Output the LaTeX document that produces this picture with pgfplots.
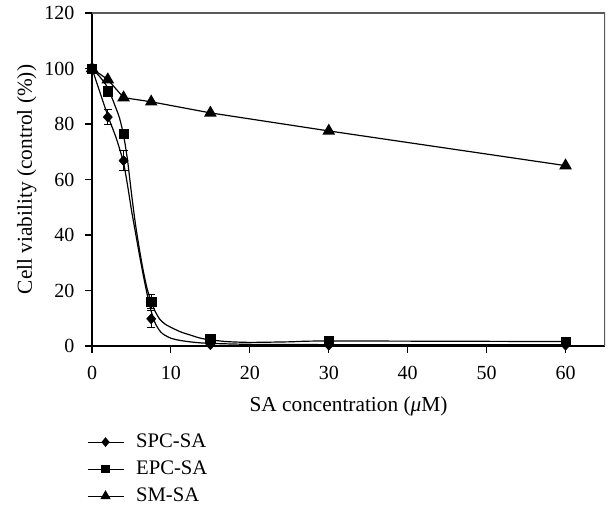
\documentclass[border=0pt]{standalone}
\usepackage{pgfplots}
\pgfplotsset{compat=1.18}
\usepackage{fontspec}
\setmainfont{Liberation Serif}

% fitted curves
\pgfplotstableread{
x y
0 100
1 91.5
2 83
3 75.5
3.5 71
4 66
4.5 58
5 49
5.5 41
6 33
6.5 25.5
7 18.5
7.5 12.5
8 8.3
8.5 5.8
9 4.3
10 2.8
11 2.1
12.4 1.5
14.5 1.0
20 0.6
30 0.5
60 0.5
}\spcfit
\pgfplotstableread{
x y
0 100
1 97
2 93
3 86
3.5 82
4 76
4.5 67
5 55
5.5 44
6 35
6.5 27
7 20.5
7.5 16
8 12.5
8.6 9.6
9.3 7.8
10.3 6.3
11.3 5
12.4 4
13.5 3
14.5 2.4
17 1.6
20 1.3
25 1.5
30 1.8
60 1.6
}\epcfit

\begin{document}
\begin{tikzpicture}
\begin{axis}[
    scale only axis,
    width=384.75pt, height=249.75pt,
    xmin=0, xmax=65, ymin=0, ymax=120,
    xtick={0,10,...,60}, ytick={0,20,...,120},
    axis x line*=bottom, axis y line*=left,
    axis line style={-, line width=1.2pt, black},
    tick align=outside, major tick length=5pt,
    tick style={black, line width=0.8pt},
    every tick label/.append style={font=\fontsize{15}{18}\selectfont},
    yticklabel style={inner sep=0pt, xshift=-8pt},
    xticklabel style={inner sep=0pt, yshift=-10pt},
    /pgf/number format/assume math mode=true,
    label style={font=\fontsize{16}{19}\selectfont},
    xlabel={SA concentration (\textit{μ}M)},
    ylabel={Cell viability (control (\%))},
    xlabel style={at={(axis description cs:0.5,-0.18)}, anchor=center},
    ylabel style={at={(axis description cs:-0.127,0.5)}, anchor=center},
    legend style={draw=none, fill=none, inner sep=0pt,
        at={(axis description cs:0,0)}, anchor=north west,
        xshift=-4pt, yshift=-64pt, font=\fontsize{15.5}{18}\selectfont,
        row sep=4.5pt, cells={anchor=west},
        /tikz/every odd column/.append style={column sep=7pt}},
    legend cell align=left,
    legend image code/.code={
        \draw[#1, mark repeat=2, mark phase=2] plot coordinates {(0pt,0pt) (13.5pt,0pt) (27pt,0pt)};},
]
\coordinate (bl) at (rel axis cs:0,0);
\coordinate (tr) at (rel axis cs:1,1);
\draw[black!65, line width=1pt] (rel axis cs:0,1) -- (rel axis cs:1,1) -- (rel axis cs:1,0);

\addplot[forget plot, black, line width=0.9pt, smooth, tension=0.4] table {\spcfit};
\addplot[forget plot, black, line width=0.9pt, smooth, tension=0.4] table {\epcfit};
\addplot[forget plot, black, line width=0.9pt, mark=triangle*, mark size=4.6pt] coordinates {
    (0,100) (2,96) (4,89.5) (7.5,88) (15,84) (30,77.5) (60,65)};

\addplot[forget plot, only marks, black, mark=diamond*, mark size=3.8pt,
    mark options={xscale=1.2},
    error bars/.cd, y dir=both, y explicit,
    error bar style={line width=0.8pt}, error mark options={rotate=90, mark size=3.2pt, line width=0.8pt}]
    table[x=x, y=y, y error=e] {
x y e
0 100 0
2 82.5 2.8
4 66.8 3.5
7.5 9.8 3
15 0.5 0.3
30 0.3 0
60 0.3 0
};
\addplot[forget plot, only marks, black, mark=square*, mark size=3.5pt,
    error bars/.cd, y dir=both, y explicit,
    error bar style={line width=0.8pt}, error mark options={rotate=90, mark size=3.2pt, line width=0.8pt}]
    table[x=x, y=y, y error=e] {
x y e
0 100 0
2 91.8 1
4 76.4 1.5
7.5 16 2.5
15 2.5 0.5
30 1.8 0
60 1.5 0
};

\addlegendimage{black, line width=0.9pt, mark=diamond*, mark size=3pt, mark options={xscale=1.1}}
\addlegendentry{SPC-SA}
\addlegendimage{black, line width=0.9pt, mark=square*, mark size=2.8pt}
\addlegendentry{EPC-SA}
\addlegendimage{black, line width=0.9pt, mark=triangle*, mark size=3.6pt}
\addlegendentry{SM-SA}
\end{axis}
\pgfresetboundingbox
\path (bl) ++(-69pt,-119.25pt) (tr) ++(2.25pt,9.75pt);
\end{tikzpicture}
\end{document}
